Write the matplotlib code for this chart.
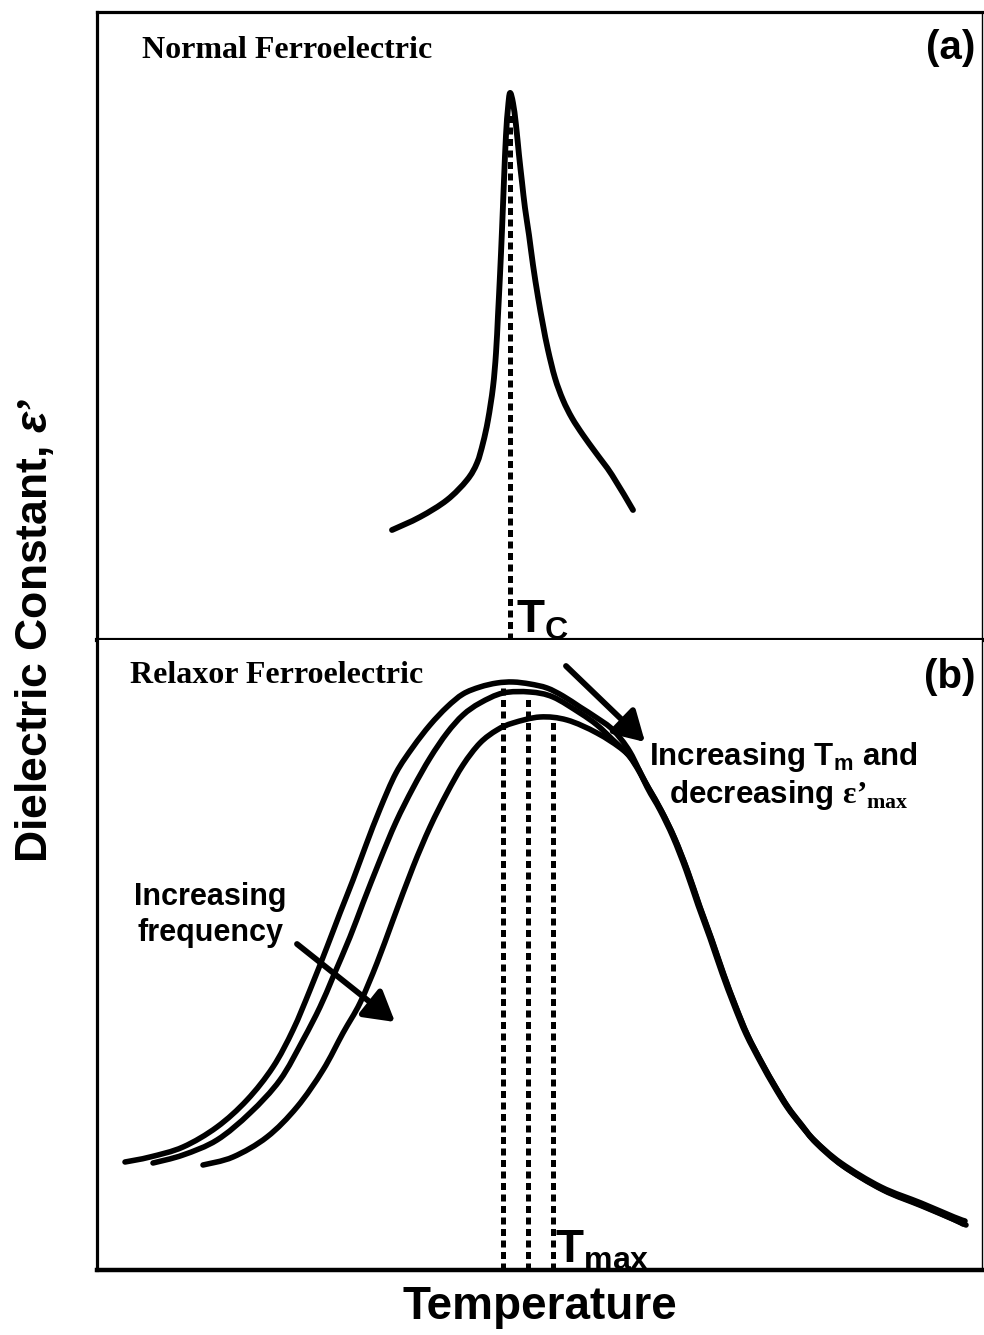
import matplotlib.pyplot as plt
from matplotlib.path import Path
from matplotlib.patches import PathPatch

plt.rcParams['font.family'] = ['Liberation Sans', 'DejaVu Sans']
plt.rcParams['mathtext.fontset'] = 'custom'
plt.rcParams['mathtext.bf'] = 'Liberation Sans:bold'
plt.rcParams['mathtext.sf'] = 'Liberation Sans:bold'
plt.rcParams['mathtext.it'] = 'Liberation Sans:bold:italic'
plt.rcParams['mathtext.rm'] = 'Liberation Serif:bold'

# (a) normal ferroelectric: sharp peak at Tc
normal_T = [392, 420, 447, 467, 477, 483, 488, 493, 496, 498, 500, 502, 504, 506,
            508, 510, 513, 516, 519, 522, 525, 529, 533, 538, 543, 548, 555, 563,
            572, 583, 596, 612, 633]
normal_eps = [110, 123, 140, 160, 177, 197, 220, 253, 287, 325, 365, 410, 460, 505,
              532, 547, 537, 515, 485, 458, 432, 405, 375, 343, 315, 290, 262, 240,
              222, 205, 187, 165, 130]
Tc = 510
Tc_eps = 525

# (b) relaxor ferroelectric: one curve per frequency, lowest first
relaxor_T = [
    [125, 150, 183, 217, 247, 273, 293, 310, 327, 340, 353, 366, 380, 396, 413, 430,
     447, 463, 480, 497, 513, 530, 547, 563, 580, 597, 613, 630, 647, 660, 673, 686,
     698, 710, 722, 734, 746, 761, 774, 787, 800, 814, 841, 881, 921, 954, 965],
    [153, 183, 217, 250, 280, 303, 320, 333, 350, 363, 380, 396, 413, 430, 447, 463,
     480, 503, 530, 553, 580, 597, 613, 630, 648, 661, 674, 687, 699, 711, 723, 735,
     747, 762, 775, 788, 801, 815, 842, 882, 921, 953, 963],
    [203, 233, 267, 297, 323, 343, 360, 377, 393, 413, 430, 447, 463, 480, 497, 513,
     540, 567, 597, 623, 636, 649, 662, 675, 688, 700, 712, 724, 736, 748, 763, 776,
     789, 802, 816, 843, 883, 922, 955, 966],
]
relaxor_eps = [
    [108, 113, 123, 143, 170, 203, 240, 280, 323, 357, 390, 425, 461, 497, 523, 545,
     563, 576, 583, 587, 588, 586, 582, 574, 563, 552, 540, 518, 483, 460, 433, 400,
     365, 332, 297, 265, 236, 207, 184, 163, 146, 130, 107, 83, 67, 53, 49],
    [107, 115, 130, 157, 190, 230, 263, 293, 333, 367, 410, 448, 482, 512, 537, 555,
     567, 577, 578, 573, 557, 545, 530, 513, 483, 460, 433, 400, 365, 332, 297, 265,
     236, 207, 184, 163, 146, 129, 105, 81, 65, 51, 46],
    [105, 113, 133, 163, 200, 237, 267, 307, 350, 403, 443, 477, 505, 527, 540, 547,
     553, 550, 537, 520, 505, 481, 458, 431, 398, 363, 330, 295, 263, 234, 205, 182,
     161, 144, 127, 104, 80, 64, 50, 45],
]
Tmax = [503, 528, 553]
Tmax_eps = [582, 574, 552]

W, H = 984, 1335
fig = plt.figure(figsize=(W / 100, H / 100), dpi=100)


def frac(x0, y0, x1, y1):
    # pixel box -> figure fraction rect
    return [x0 / W, 1 - y1 / H, (x1 - x0) / W, (y1 - y0) / H]


def smooth_curve(ax, xs, ys, lw):
    # cubic bezier through every point (catmull-rom tangents)
    pts = list(zip(xs, ys))
    verts = [pts[0]]
    codes = [Path.MOVETO]
    n = len(pts)
    for i in range(n - 1):
        p0 = pts[max(i - 1, 0)]
        p1 = pts[i]
        p2 = pts[i + 1]
        p3 = pts[min(i + 2, n - 1)]
        c1 = (p1[0] + (p2[0] - p0[0]) / 6, p1[1] + (p2[1] - p0[1]) / 6)
        c2 = (p2[0] - (p3[0] - p1[0]) / 6, p2[1] - (p3[1] - p1[1]) / 6)
        verts += [c1, c2, p2]
        codes += [Path.CURVE4] * 3
    ax.add_patch(PathPatch(Path(verts, codes), fill=False, edgecolor='black',
                           lw=lw, capstyle='round', joinstyle='round'))


ax_a = fig.add_axes(frac(97, 12, 982, 640))
ax_b = fig.add_axes(frac(97, 640, 982, 1270))

for ax in (ax_a, ax_b):
    ax.set_xlim(97, 982)
    ax.set_xticks([])
    ax.set_yticks([])
    ax.spines['left'].set_linewidth(2.3)
    ax.spines['right'].set_linewidth(1.0)
ax_a.set_ylim(0, 628)
ax_b.set_ylim(0, 630)
ax_a.spines['top'].set_linewidth(2.3)
ax_a.spines['bottom'].set_linewidth(3.0)
ax_b.spines['top'].set_visible(False)
ax_b.spines['bottom'].set_linewidth(3.2)

dot = (0, (1.4, 0.9))

# panel (a)
smooth_curve(ax_a, normal_T, normal_eps, 4.2)
ax_a.plot([Tc, Tc], [0, Tc_eps], color='black', lw=3.6, ls=dot,
          dash_capstyle='butt')
ax_a.text(142, 590, 'Normal Ferroelectric', family='Liberation Serif',
          fontweight='bold', fontsize=23, ha='left', va='center')
ax_a.text(975, 592, '(a)', fontweight='bold', fontsize=29, ha='right', va='center')
ax_a.text(516, 8, r'$\mathbf{T}_\mathbf{C}$', fontsize=33, ha='left', va='baseline')

# panel (b)
for T, eps in zip(relaxor_T, relaxor_eps):
    smooth_curve(ax_b, T, eps, 4.0)
for t, e in zip(Tmax, Tmax_eps):
    ax_b.plot([t, t], [0, e], color='black', lw=3.6, ls=dot, dash_capstyle='butt')

ax_b.text(130, 595, 'Relaxor Ferroelectric', family='Liberation Serif',
          fontweight='bold', fontsize=23, ha='left', va='center')
ax_b.text(975, 593, '(b)', fontweight='bold', fontsize=29, ha='right', va='center')
ax_b.text(555, 8, r'$\mathbf{T}_\mathbf{max}$', fontsize=33, ha='left', va='baseline')

ax_b.text(783, 513, r'Increasing $\mathbf{T}_\mathbf{m}$ and', fontweight='bold',
          fontsize=22.5, ha='center', va='center')
ax_b.text(789, 475, r"decreasing $\mathrm{\varepsilon’}_\mathrm{max}$",
          fontweight='bold', fontsize=22.5, ha='center', va='center')
ax_b.text(210, 355, 'Increasing\nfrequency', fontweight='bold', fontsize=22,
          ha='center', va='center', linespacing=1.25)

arrow = dict(arrowstyle='-|>,head_length=0.6,head_width=0.35', lw=4.2,
             color='black', mutation_scale=30, shrinkA=0, shrinkB=0)
ax_b.annotate('', xy=(645, 528), xytext=(566, 604), arrowprops=arrow)
ax_b.annotate('', xy=(395, 248), xytext=(297, 326), arrowprops=arrow)

fig.text(540 / W, 1 - 1307 / H, 'Temperature', fontweight='bold', fontsize=33,
         ha='center', va='center')
fig.text(35 / W, 1 - 630 / H, r"Dielectric Constant, $\varepsilon’$",
         fontweight='bold', fontsize=32, ha='center', va='center', rotation=90)

fig.savefig('out.png', dpi=100)
